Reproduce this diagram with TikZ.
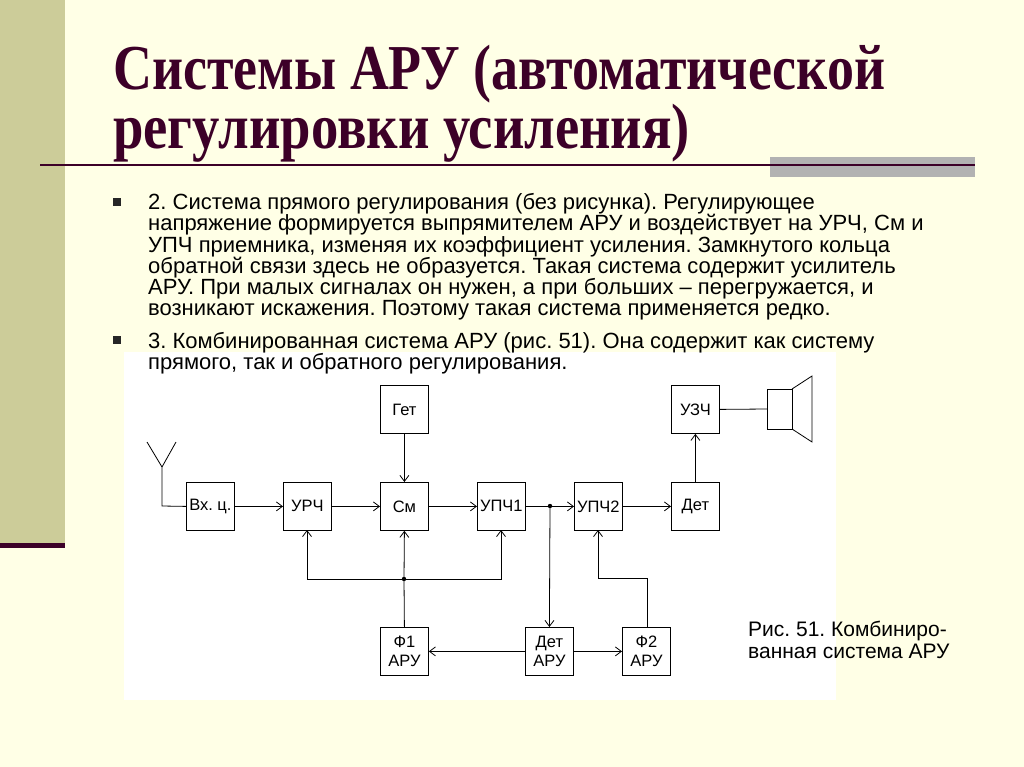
\documentclass[tikz,border=0pt]{standalone}
\usepackage{fontspec}
\setmainfont{Liberation Sans}
\newfontfamily\titlefont{Liberation Serif}
\usetikzlibrary{arrows.meta}
\definecolor{bgc}{RGB}{255,255,230}
\definecolor{strip}{RGB}{204,204,153}
\definecolor{ttl}{RGB}{60,0,40}
\frenchspacing
\tikzset{
 blk/.style={draw,line width=0.8pt,minimum width=48pt,minimum height=48pt,inner sep=0pt,anchor=north west,font=\fontsize{16.5}{19}\selectfont,align=center},
 arr/.style={line width=0.8pt,-{Straight Barb[length=6pt,width=9pt]}},
 ln/.style={line width=0.8pt},
 txt/.style={anchor=base west,inner sep=0pt,font=\fontsize{22}{20}\selectfont},
 captxt/.style={anchor=base west,inner sep=0pt,font=\fontsize{21}{18}\selectfont}
}
\begin{document}
\begin{tikzpicture}[x=1pt,y=-1pt]
\fill[bgc] (0,0) rectangle (1024,767);
\useasboundingbox (0,0) rectangle (1024,767);
\fill[strip] (0,0) rectangle (65,545);
\fill[ttl] (0,543) rectangle (65,548);
\node[anchor=base west,inner sep=0pt,text=ttl] (t1) at (113,90) {\resizebox{772pt}{\height}{\titlefont\bfseries\fontsize{64}{70}\selectfont Системы АРУ (автоматической}};
\node[anchor=base west,inner sep=0pt,text=ttl] (t2) at (113,149) {\resizebox{577pt}{\height}{\titlefont\bfseries\fontsize{64}{70}\selectfont регулировки усиления)}};
\fill[black!30] (770,157) rectangle (975,177);
\draw[ttl,line width=2.5pt] (40,165) -- (975,165);
% bullets
\fill[black!85] (113,198) rectangle (121,206);
\fill[black!85] (113,336) rectangle (121,344);
\node[txt] at (148,210) {2. Система прямого регулирования (без рисунка). Регулирующее};
\node[txt] at (148,231) {напряжение формируется выпрямителем АРУ и воздействует на УРЧ, См и};
\node[txt] at (148,252) {УПЧ приемника, изменяя их коэффициент усиления. Замкнутого кольца};
\node[txt] at (148,273) {обратной связи здесь не образуется. Такая система содержит усилитель};
\node[txt] at (148,294) {АРУ. При малых сигналах он нужен, а при больших – перегружается, и};
\node[txt] at (148,315) {возникают искажения. Поэтому такая система применяется редко.};
\fill[white] (124,352) rectangle (836,700);
\node[txt] at (148,348) {3. Комбинированная система АРУ (рис. 51). Она содержит как систему};
\node[txt] at (148,369) {прямого, так и обратного регулирования.};
% blocks
\node[blk] (get) at (380,385) {Гет};
\node[blk] (uzch) at (671,385) {УЗЧ};
\node[blk] (vx) at (186,482) {Вх. ц.};
\node[blk] (urch) at (283,482) {УРЧ};
\node[blk] (sm) at (380,482) {См};
\node[blk] (upch1) at (477,482) {УПЧ1};
\node[blk] (upch2) at (574,482) {УПЧ2};
\node[blk] (det) at (671,482) {Дет};
\node[blk] (f1) at (380,627) {Ф1\\АРУ};
\node[blk] (dara) at (525,627) {Дет\\АРУ};
\node[blk] (f2) at (622,627) {Ф2\\АРУ};
% antenna
\coordinate (ab) at (162,506);
\coordinate (at) at (162,467);
\draw[ln] (vx.west) -- (ab) -- (at) -- (147,442);
\draw[ln] (at) -- (176,442);
% main chain
\draw[arr] (vx) -- (urch);
\draw[arr] (urch) -- (sm);
\draw[arr] (sm) -- (upch1);
\draw[arr] (upch1) -- (upch2);
\draw[arr] (upch2) -- (det);
\draw[arr] (det) -- (uzch);
\draw[arr] (get) -- (sm);
% speaker
\draw[ln] (767,389) rectangle (792,429);
\draw[ln] (792,389) -- (812,376) -- (812,442) -- (792,429);
\draw[ln] (uzch.east) -- (767,409);
% branch to Дет АРУ
\coordinate (j1) at (550,506);
\fill (j1) circle (2.2pt);
\draw[arr] (j1) -- (dara.north);
\draw[arr] (dara) -- (f1);
\draw[arr] (dara) -- (f2);
% bus
\coordinate (j2) at (404,579);
\fill (j2) circle (2.2pt);
\draw[ln] (f1.north) -- (j2);
\draw[arr] (j2) -- (sm.south);
\draw[arr] (j2) -- (307,579) -- (307,530);
\draw[arr] (j2) -- (501,579) -- (501,530);
\draw[arr] (647,627) -- (647,578) -- (598,578) -- (598,530);
% caption
\node[captxt] at (748,636) {Рис. 51. Комбиниро-};
\node[captxt] at (748,658) {ванная система АРУ};
\end{tikzpicture}
\end{document}
